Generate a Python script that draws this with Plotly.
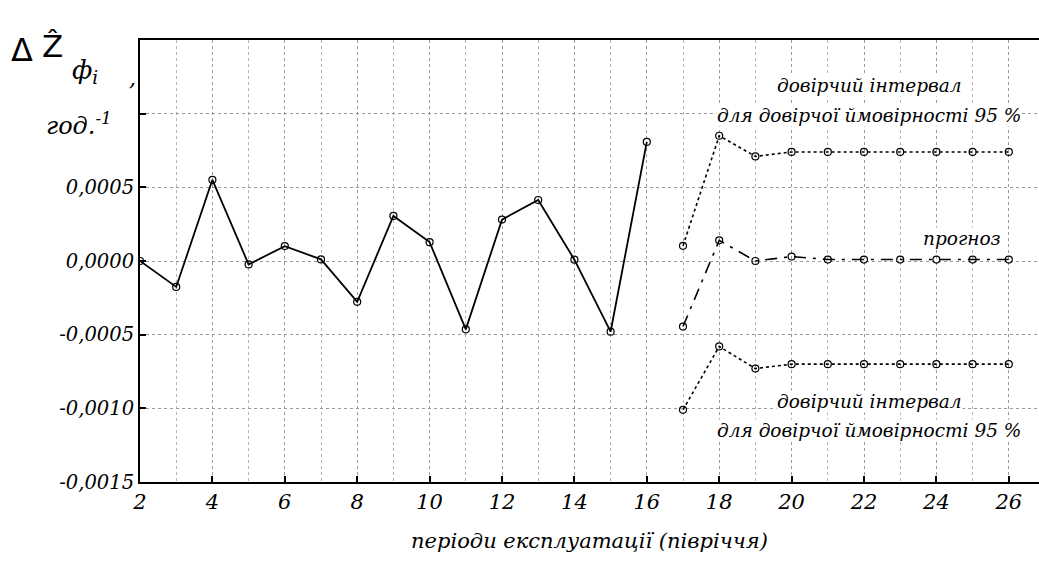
import plotly.graph_objects as go

# Observed values (half-year periods 2..16)
periods_obs = [2, 3, 4, 5, 6, 7, 8, 9, 10, 11, 12, 13, 14, 15, 16]
dz_obs = [0.0000, -0.000176, 0.000551, -0.000023, 0.000101, 0.000011, -0.000277,
          0.000306, 0.000128, -0.000464, 0.000281, 0.000414, 0.000009, -0.00048, 0.000808]

# Forecast with 95 % confidence limits (periods 17..26)
periods_fc = [17, 18, 19, 20, 21, 22, 23, 24, 25, 26]
dz_fc = [-0.000445, 0.00014, 0.0000, 0.00003, 0.00001, 0.00001, 0.00001, 0.00001, 0.00001, 0.00001]
dz_upper = [0.000103, 0.00085, 0.00071, 0.00074, 0.00074, 0.00074, 0.00074, 0.00074, 0.00074, 0.00074]
dz_lower = [-0.00101, -0.00058, -0.00073, -0.0007, -0.0007, -0.0007, -0.0007, -0.0007, -0.0007, -0.0007]

x_ticks = [2, 4, 6, 8, 10, 12, 14, 16, 18, 20, 22, 24, 26]
x_labels = [str(v) for v in x_ticks]
y_ticks = [-0.0015, -0.0010, -0.0005, 0.0, 0.0005, 0.0010, 0.0015]
y_labels = ["-0,0015", "-0,0010", "-0,0005", "0,0000", "0,0005", "", ""]

SERIF = "DejaVu Serif"
marker = dict(symbol="circle-open", size=7, color="black", line=dict(width=1.2, color="black"))

fig = go.Figure()
fig.add_trace(go.Scatter(x=periods_obs, y=dz_obs, mode="lines+markers",
                         line=dict(color="black", width=1.8), marker=marker))
fig.add_trace(go.Scatter(x=periods_fc, y=dz_upper, mode="lines+markers",
                         line=dict(color="black", width=1.6, dash="dot"), marker=marker))
fig.add_trace(go.Scatter(x=periods_fc, y=dz_lower, mode="lines+markers",
                         line=dict(color="black", width=1.6, dash="dot"), marker=marker))
fig.add_trace(go.Scatter(x=periods_fc, y=dz_fc, mode="lines+markers",
                         line=dict(color="black", width=1.6, dash="12px,7px,3px,7px"), marker=marker))

ann_font = dict(family=SERIF, size=18.5, color="black", style="italic")
for txt, xx, yy in [
    ("довірчий інтервал", 22.15, 0.00119),
    ("для довірчої ймовірності 95 %", 22.15, 0.00099),
    ("прогноз", 24.7, 0.00015),
    ("довірчий інтервал", 22.15, -0.000955),
    ("для довірчої ймовірності 95 %", 22.15, -0.00115),
]:
    fig.add_annotation(x=xx, y=yy, text=txt, showarrow=False, font=ann_font,
                       bgcolor="white", borderpad=0, xanchor="center", yanchor="middle")

# y-axis label placed in the top-left corner
PL, PW, PB, PH = 140, 899, 482, 442
def px(xp):
    return (xp - PL) / PW
def py(yp):
    return (PB - yp) / PH

fig.add_annotation(xref="paper", yref="paper", x=px(9), y=py(50), text="Δ",
                   showarrow=False, xanchor="left", yanchor="middle",
                   font=dict(family="DejaVu Sans", size=32, color="black"))
fig.add_annotation(xref="paper", yref="paper", x=px(40), y=py(46), text="Ẑ",
                   showarrow=False, xanchor="left", yanchor="middle",
                   font=dict(family="DejaVu Sans", size=31, color="black"))
fig.add_annotation(xref="paper", yref="paper", x=px(70), y=py(72), text="ф<sub>i</sub>",
                   showarrow=False, xanchor="left", yanchor="middle",
                   font=dict(family=SERIF, size=26, color="black", style="italic"))
fig.add_annotation(xref="paper", yref="paper", x=px(127), y=py(78), text=",",
                   showarrow=False, xanchor="left", yanchor="middle",
                   font=dict(family=SERIF, size=22, color="black", style="italic"))
fig.add_annotation(xref="paper", yref="paper", x=px(44), y=py(124), text="год.<sup>-1</sup>",
                   showarrow=False, xanchor="left", yanchor="middle",
                   font=dict(family=SERIF, size=24, color="black", style="italic"))

grid_major = dict(showgrid=True, gridcolor="#9a9a9a", gridwidth=1, griddash="dot")

fig.update_xaxes(range=[2, 2 + 899 / 36.2], tickmode="array", tickvals=x_ticks, ticktext=x_labels,
                 ticks="inside", ticklen=6, tickcolor="black", tickwidth=1.5,
                 showline=True, linecolor="black", linewidth=2, mirror=True,
                 tickfont=dict(family=SERIF, size=21, color="black", style="italic"),
                 minor=dict(dtick=1, tick0=0, showgrid=True, gridcolor="#b4b4b4", griddash="dot", gridwidth=1),
                 title=dict(text="періоди експлуатації (півріччя)", standoff=20,
                            font=dict(family=SERIF, size=21, color="black", style="italic")),
                 zeroline=False, **grid_major)
fig.update_yaxes(range=[-0.0015, 0.0015], tickmode="array", tickvals=y_ticks, ticktext=y_labels,
                 ticks="inside", ticklen=6, tickcolor="black", tickwidth=1.5,
                 showline=True, linecolor="black", linewidth=2,
                 tickfont=dict(family=SERIF, size=19.5, color="black", style="italic"),
                 zeroline=False, **grid_major)

fig.update_layout(width=1039, height=565, showlegend=False,
                  margin=dict(l=140, r=0, t=40, b=83),
                  paper_bgcolor="white", plot_bgcolor="white")

fig.write_html("out.html")
